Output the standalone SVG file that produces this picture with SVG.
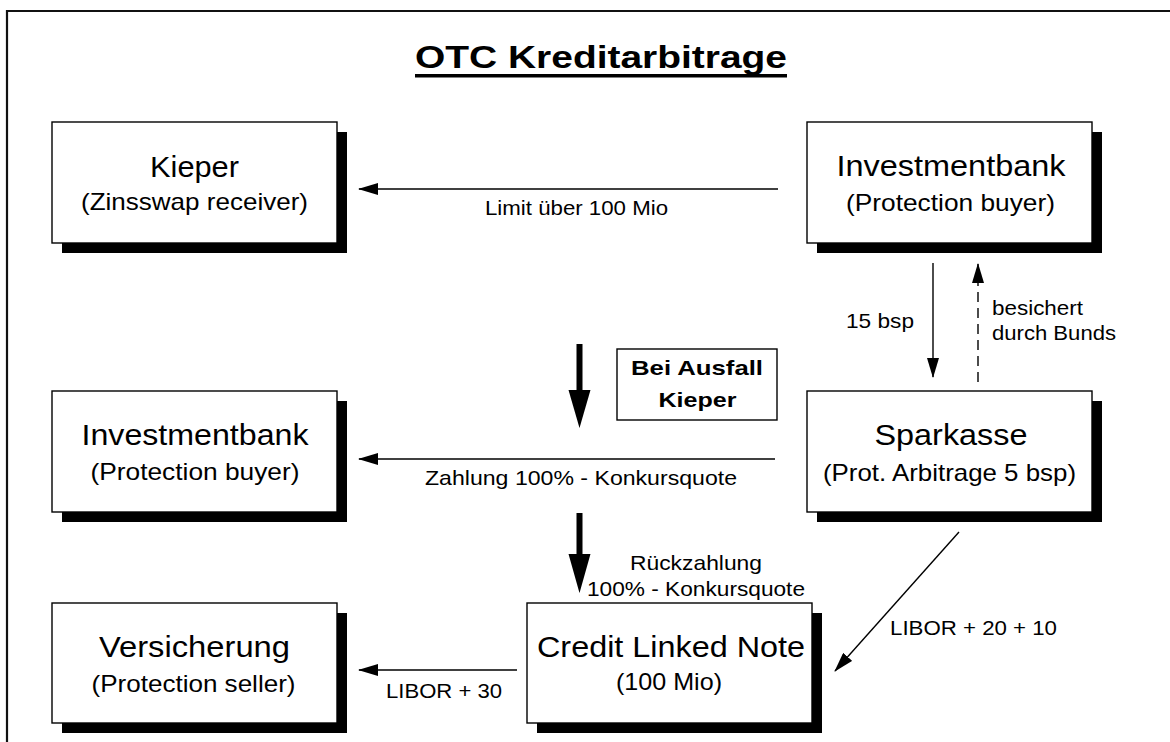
<svg xmlns="http://www.w3.org/2000/svg" width="1170" height="742" viewBox="0 0 1170 742">
<style>
text{font-family:"Liberation Sans",Arial,sans-serif;fill:#000}
.t{font-size:29px;text-anchor:middle}
.s{font-size:24px;text-anchor:middle}
.l{font-size:21px}
.b{font-size:21px;font-weight:bold;text-anchor:middle}
.box{fill:#fff;stroke:#000;stroke-width:1.4}
.sh{fill:#000}
.ln{stroke:#000;stroke-width:1.4;fill:none}
</style>
<defs>
<marker id="ah" markerUnits="userSpaceOnUse" markerWidth="20" markerHeight="12" viewBox="0 0 20 12" refX="19" refY="6" orient="auto">
<path d="M0,0 L20,6 L0,12 z" fill="#000"/>
</marker>
</defs>
<rect width="1170" height="742" fill="#fff"/>
<g id="frame">
<line x1="7" y1="11" x2="1170" y2="11" stroke="#111" stroke-width="2.2"/>
<line x1="7" y1="10" x2="7" y2="742" stroke="#111" stroke-width="2.2"/>
</g>
<g id="title">
<text x="601" y="68" font-size="31" font-weight="bold" text-anchor="middle" textLength="372" lengthAdjust="spacingAndGlyphs">OTC Kreditarbitrage</text>
<rect x="415" y="74" width="372" height="3.5" fill="#000"/>
</g>
<g id="connectors">
<line class="ln" x1="778" y1="189" x2="359" y2="189" marker-end="url(#ah)"/>
<line class="ln" x1="775" y1="459" x2="359" y2="459" marker-end="url(#ah)"/>
<line class="ln" x1="517" y1="670" x2="359" y2="670" marker-end="url(#ah)"/>
<line class="ln" x1="933" y1="263" x2="933" y2="377" marker-end="url(#ah)"/>
<line class="ln" x1="978" y1="382" x2="978" y2="264" stroke-dasharray="10,6" marker-end="url(#ah)"/>
<line class="ln" x1="959" y1="532" x2="835" y2="671" marker-end="url(#ah)"/>
<g id="thick1"><rect x="576.5" y="344" width="6" height="48" fill="#000"/><polygon points="568.5,390 590.5,390 579.5,428" fill="#000"/></g>
<g id="thick2"><rect x="576.5" y="513" width="6" height="42" fill="#000"/><polygon points="568.5,554 590.5,554 579.5,593" fill="#000"/></g>
<text class="l" x="485" y="215" textLength="183" lengthAdjust="spacingAndGlyphs">Limit über 100 Mio</text>
<text class="l" x="846" y="328" textLength="68" lengthAdjust="spacingAndGlyphs">15 bsp</text>
<text class="l" x="992" y="315" textLength="91" lengthAdjust="spacingAndGlyphs">besichert</text>
<text class="l" x="992" y="340" textLength="124" lengthAdjust="spacingAndGlyphs">durch Bunds</text>
<text class="l" x="425" y="485" textLength="312" lengthAdjust="spacingAndGlyphs">Zahlung 100% - Konkursquote</text>
<text class="l" x="696" y="570" text-anchor="middle" textLength="132" lengthAdjust="spacingAndGlyphs">Rückzahlung</text>
<text class="l" x="587" y="596" textLength="218" lengthAdjust="spacingAndGlyphs">100% - Konkursquote</text>
<text class="l" x="890" y="635" textLength="167" lengthAdjust="spacingAndGlyphs">LIBOR + 20 + 10</text>
<text class="l" x="386" y="698" textLength="116" lengthAdjust="spacingAndGlyphs">LIBOR + 30</text>
</g>
<g id="kieper">
<rect class="sh" x="62" y="132" width="285" height="121"/>
<rect class="box" x="52" y="122" width="285" height="121"/>
<text class="t" x="194.5" y="177" textLength="89" lengthAdjust="spacingAndGlyphs">Kieper</text>
<text class="s" x="194.5" y="210" textLength="227" lengthAdjust="spacingAndGlyphs">(Zinsswap receiver)</text>
</g>
<g id="investmentbank-top">
<rect class="sh" x="817" y="132" width="285" height="121"/>
<rect class="box" x="807" y="122" width="285" height="121"/>
<text class="t" x="951" y="176" textLength="229" lengthAdjust="spacingAndGlyphs">Investmentbank</text>
<text class="s" x="950.5" y="211" textLength="209" lengthAdjust="spacingAndGlyphs">(Protection buyer)</text>
</g>
<g id="investmentbank-mid">
<rect class="sh" x="62" y="401" width="285" height="121"/>
<rect class="box" x="52" y="391" width="285" height="121"/>
<text class="t" x="195" y="445" textLength="227" lengthAdjust="spacingAndGlyphs">Investmentbank</text>
<text class="s" x="195" y="480" textLength="209" lengthAdjust="spacingAndGlyphs">(Protection buyer)</text>
</g>
<g id="sparkasse">
<rect class="sh" x="817" y="401" width="285" height="121"/>
<rect class="box" x="807" y="391" width="285" height="121"/>
<text class="t" x="951" y="445" textLength="153" lengthAdjust="spacingAndGlyphs">Sparkasse</text>
<text class="s" x="949.5" y="481" textLength="253" lengthAdjust="spacingAndGlyphs">(Prot. Arbitrage 5 bsp)</text>
</g>
<g id="bei-ausfall">
<rect class="box" x="617" y="349" width="160" height="71"/>
<text class="b" x="697" y="375" textLength="132" lengthAdjust="spacingAndGlyphs">Bei Ausfall</text>
<text class="b" x="697.5" y="407" textLength="78" lengthAdjust="spacingAndGlyphs">Kieper</text>
</g>
<g id="versicherung">
<rect class="sh" x="62" y="613" width="285" height="120"/>
<rect class="box" x="52" y="603" width="285" height="120"/>
<text class="t" x="194.5" y="657" textLength="191" lengthAdjust="spacingAndGlyphs">Versicherung</text>
<text class="s" x="193.5" y="692" textLength="204" lengthAdjust="spacingAndGlyphs">(Protection seller)</text>
</g>
<g id="credit-linked-note">
<rect class="sh" x="537" y="613" width="285" height="120"/>
<rect class="box" x="527" y="603" width="285" height="120"/>
<text class="t" x="671" y="657" textLength="268" lengthAdjust="spacingAndGlyphs">Credit Linked Note</text>
<text class="s" x="669" y="690" textLength="106" lengthAdjust="spacingAndGlyphs">(100 Mio)</text>
</g>
</svg>
